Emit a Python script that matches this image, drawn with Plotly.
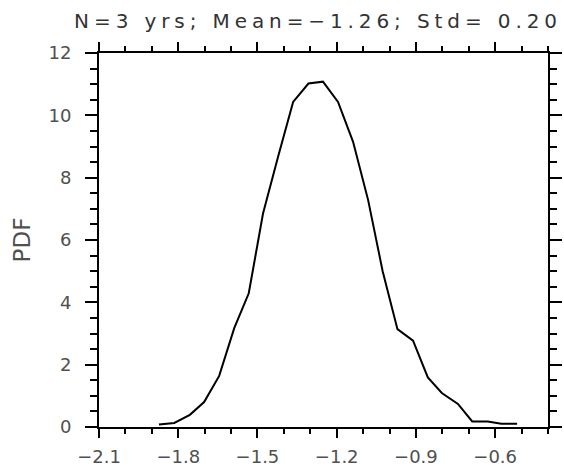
import plotly.graph_objects as go

# Bin centres of the anomaly distribution and the probability density in each bin
bin_centres = [-1.873, -1.815, -1.756, -1.702, -1.645, -1.588, -1.533, -1.479,
               -1.422, -1.365, -1.307, -1.252, -1.195, -1.138, -1.081, -1.026,
               -0.970, -0.911, -0.855, -0.802, -0.741, -0.687, -0.628, -0.577,
               -0.517]
pdf_values = [0.08, 0.13, 0.39, 0.80, 1.64, 3.17, 4.29, 6.85,
              8.67, 10.43, 11.02, 11.08, 10.43, 9.15, 7.28, 5.00,
              3.14, 2.77, 1.59, 1.09, 0.74, 0.18, 0.18, 0.105,
              0.105]

title_text = "N=3 yrs; Mean=\u22121.26; Std= 0.20"
y_label = "PDF"

W, H = 564, 468
M_L, M_R, M_T, M_B = 99, 16, 53, 41

tick_font = dict(family="DejaVu Sans", size=18, color="#505050")

fig = go.Figure()
fig.add_trace(go.Scatter(
    x=bin_centres, y=pdf_values, mode="lines",
    line=dict(color="black", width=2),
    showlegend=False, hoverinfo="skip",
))

axis_common = dict(
    automargin=False,
    showline=True, linecolor="black", linewidth=2,
    mirror="ticks", ticks="outside", tickcolor="black", tickwidth=2,
    showgrid=False, zeroline=False, tickfont=tick_font,
)

fig.update_xaxes(
    range=[-2.1, -0.4], tickmode="linear", tick0=-2.1, dtick=0.3,
    tickformat=".1f", ticklen=9, ticklabelstandoff=3,
    minor=dict(dtick=0.1, tick0=-2.1, ticks="outside", ticklen=5,
               tickwidth=1.5, tickcolor="black", showgrid=False),
    **axis_common,
)
fig.update_yaxes(
    range=[0, 12], tickmode="linear", tick0=0, dtick=2,
    ticklen=12, ticklabelstandoff=10,
    minor=dict(dtick=0.5, tick0=0, ticks="outside", ticklen=7,
               tickwidth=1.5, tickcolor="black", showgrid=False),
    title=dict(text=y_label, standoff=11,
               font=dict(family="DejaVu Sans", size=23, color="#505050")),
    **axis_common,
)

fig.update_layout(
    width=W, height=H,
    margin=dict(l=M_L, r=M_R, t=M_T, b=M_B, pad=0),
    paper_bgcolor="white", plot_bgcolor="white",
    title=dict(text=title_text, xref="container", yref="container",
               x=562 / W, xanchor="right", y=1 - 21 / H, yanchor="middle",
               font=dict(family="DejaVu Sans", size=20, color="#333333")),
)

# widen the glyph spacing of the heading to suit its wide lettering
spacing_js = (
    "document.querySelectorAll('.gtitle').forEach(function(t){"
    "t.style.letterSpacing='4.9px';});"
)

fig.write_html("out.html", post_script=spacing_js)
